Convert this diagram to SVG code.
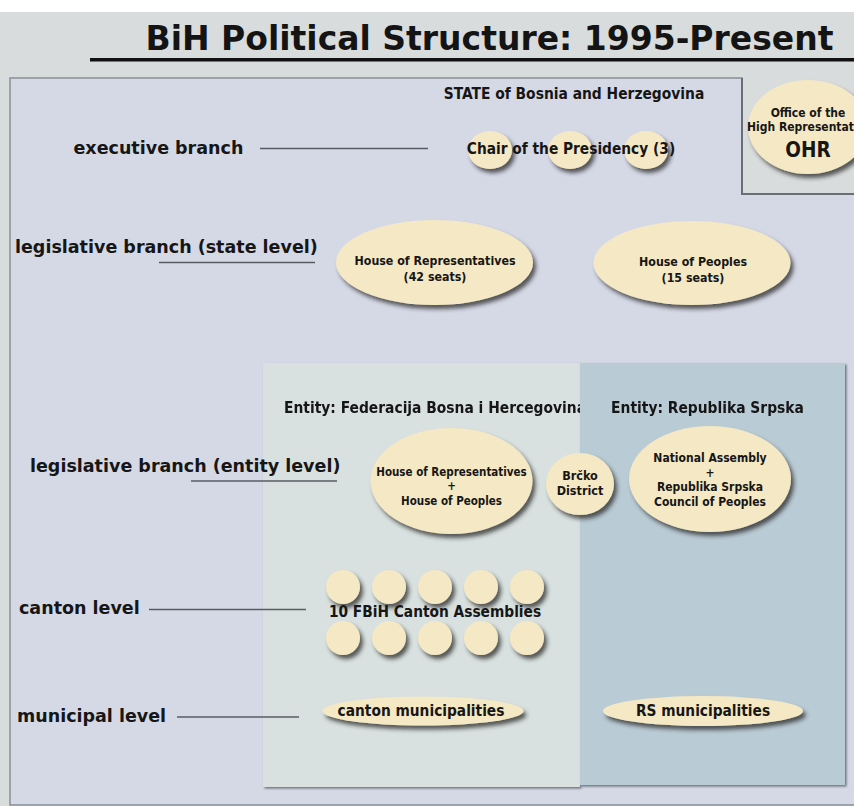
<svg xmlns="http://www.w3.org/2000/svg" width="854" height="806" viewBox="0 0 854 806">
<defs>
<style>
.title{font-family:'DejaVu Sans',sans-serif;font-weight:bold;font-size:33px;fill:#141414}
.lbl{font-family:'DejaVu Sans',sans-serif;font-weight:bold;font-size:17.5px;fill:#161616}
.hd{font-family:'DejaVu Sans Condensed','DejaVu Sans',sans-serif;font-weight:bold;font-size:15.4px;fill:#161616}
.nt{font-family:'DejaVu Sans Condensed','DejaVu Sans',sans-serif;font-weight:bold;fill:#161616;text-anchor:middle}
.node{fill:#f5e8c4;filter:url(#sh)}
.conn{stroke:#575b62;stroke-width:1.6;fill:none}
.panel{filter:url(#psh)}
</style>
<filter id="sh" x="-30%" y="-30%" width="160%" height="170%">
<feDropShadow dx="3" dy="4" stdDeviation="2" flood-color="#2a2a2a" flood-opacity="0.75"/>
</filter>
<filter id="psh" x="-5%" y="-5%" width="110%" height="110%">
<feDropShadow dx="1.5" dy="1.5" stdDeviation="0.8" flood-color="#5f636a" flood-opacity="0.9"/>
</filter>
</defs>
<rect x="0" y="0" width="854" height="806" fill="#ffffff"/>
<rect x="0" y="12" width="854" height="794" fill="#d9dcdc"/>
<g id="title">
<text class="title" x="489.5" y="50" text-anchor="middle">BiH Political Structure: 1995-Present</text>
<rect x="90" y="58" width="764" height="3.5" fill="#111111"/>
</g>
<g id="state-panel">
<path d="M10,78 H742 V194 H860 V805 H10 Z" fill="#d5d9e6" stroke="#8b8f97" stroke-width="1.5"/>
<path d="M742,78 V194 H854" fill="none" stroke="#6a6e75" stroke-width="2"/>
<text class="hd" x="574" y="99" text-anchor="middle">STATE of Bosnia and Herzegovina</text>
</g>
<g id="fbih-panel" class="panel">
<rect x="263" y="363" width="317" height="424" fill="#d8e1df"/>
<text class="hd" x="435" y="413" text-anchor="middle">Entity: Federacija Bosna i Hercegovina</text>
</g>
<g id="rs-panel" class="panel">
<rect x="580" y="363" width="265" height="422" fill="#b9cbd5"/>
<text class="hd" x="707.5" y="413" text-anchor="middle">Entity: Republika Srpska</text>
</g>
<g id="connectors">
<line class="conn" x1="260" y1="148.5" x2="428" y2="148.5"/>
<line class="conn" x1="159" y1="262.5" x2="315" y2="262.5"/>
<line class="conn" x1="191" y1="481" x2="337" y2="481"/>
<line class="conn" x1="149" y1="609.5" x2="306" y2="609.5"/>
<line class="conn" x1="177" y1="717" x2="299" y2="717"/>
</g>
<g id="labels">
<text class="lbl" x="73.5" y="154">executive branch</text>
<text class="lbl" x="15" y="253">legislative branch (state level)</text>
<text class="lbl" x="30" y="472">legislative branch (entity level)</text>
<text class="lbl" x="19" y="614">canton level</text>
<text class="lbl" x="17" y="722">municipal level</text>
</g>
<g id="presidency">
<ellipse class="node" cx="490" cy="150" rx="22" ry="19"/>
<ellipse class="node" cx="570" cy="150" rx="22" ry="19"/>
<ellipse class="node" cx="646" cy="150" rx="22" ry="19"/>
<text class="nt" x="571" y="154" font-size="15.3">Chair of the Presidency (3)</text>
</g>
<g id="ohr">
<ellipse class="node" cx="808" cy="127" rx="60" ry="47"/>
<text class="nt" x="808" y="117" font-size="12">Office of the</text>
<text class="nt" x="747" y="131" font-size="12" text-anchor="start" style="text-anchor:start">High Representat</text>
<text class="nt" x="808" y="157" font-size="20.5">OHR</text>
</g>
<g id="state-house-of-representatives">
<ellipse class="node" cx="434.5" cy="262.5" rx="98.5" ry="42.5"/>
<text class="nt" x="435" y="265" font-size="12.3">House of Representatives</text>
<text class="nt" x="435" y="281" font-size="12.3">(42 seats)</text>
</g>
<g id="state-house-of-peoples">
<ellipse class="node" cx="692" cy="263" rx="98.5" ry="42"/>
<text class="nt" x="693" y="266" font-size="12.3">House of Peoples</text>
<text class="nt" x="693" y="282" font-size="12.3">(15 seats)</text>
</g>
<g id="fbih-legislature">
<ellipse class="node" cx="451.5" cy="481" rx="81" ry="53"/>
<text class="nt" x="451.5" y="476" font-size="11.5">House of Representatives</text>
<text class="nt" x="451.5" y="490" font-size="11.5">+</text>
<text class="nt" x="451.5" y="505" font-size="11.5">House of Peoples</text>
</g>
<g id="brcko">
<ellipse class="node" cx="580" cy="484" rx="34" ry="31"/>
<text class="nt" x="580" y="480" font-size="12.5">Brčko</text>
<text class="nt" x="580" y="495" font-size="12.5">District</text>
</g>
<g id="rs-legislature">
<ellipse class="node" cx="710" cy="479" rx="81" ry="53"/>
<text class="nt" x="710" y="462" font-size="12">National Assembly</text>
<text class="nt" x="710" y="477" font-size="12">+</text>
<text class="nt" x="710" y="491" font-size="12">Republika Srpska</text>
<text class="nt" x="710" y="506" font-size="12">Council of Peoples</text>
</g>
<g id="canton-assemblies">
<circle class="node" cx="343" cy="587" r="17"/>
<circle class="node" cx="389" cy="587" r="17"/>
<circle class="node" cx="435" cy="587" r="17"/>
<circle class="node" cx="481" cy="587" r="17"/>
<circle class="node" cx="527" cy="587" r="17"/>
<circle class="node" cx="343" cy="638" r="17"/>
<circle class="node" cx="389" cy="638" r="17"/>
<circle class="node" cx="435" cy="638" r="17"/>
<circle class="node" cx="481" cy="638" r="17"/>
<circle class="node" cx="527" cy="638" r="17"/>
<text class="nt" x="435" y="617" font-size="15.3">10 FBiH Canton Assemblies</text>
</g>
<g id="canton-municipalities">
<ellipse class="node" cx="423" cy="711" rx="100.5" ry="14.5"/>
<text class="nt" x="421" y="716" font-size="15.3">canton municipalities</text>
</g>
<g id="rs-municipalities">
<ellipse class="node" cx="703" cy="711" rx="100" ry="15"/>
<text class="nt" x="703" y="716" font-size="15.3">RS municipalities</text>
</g>
</svg>
